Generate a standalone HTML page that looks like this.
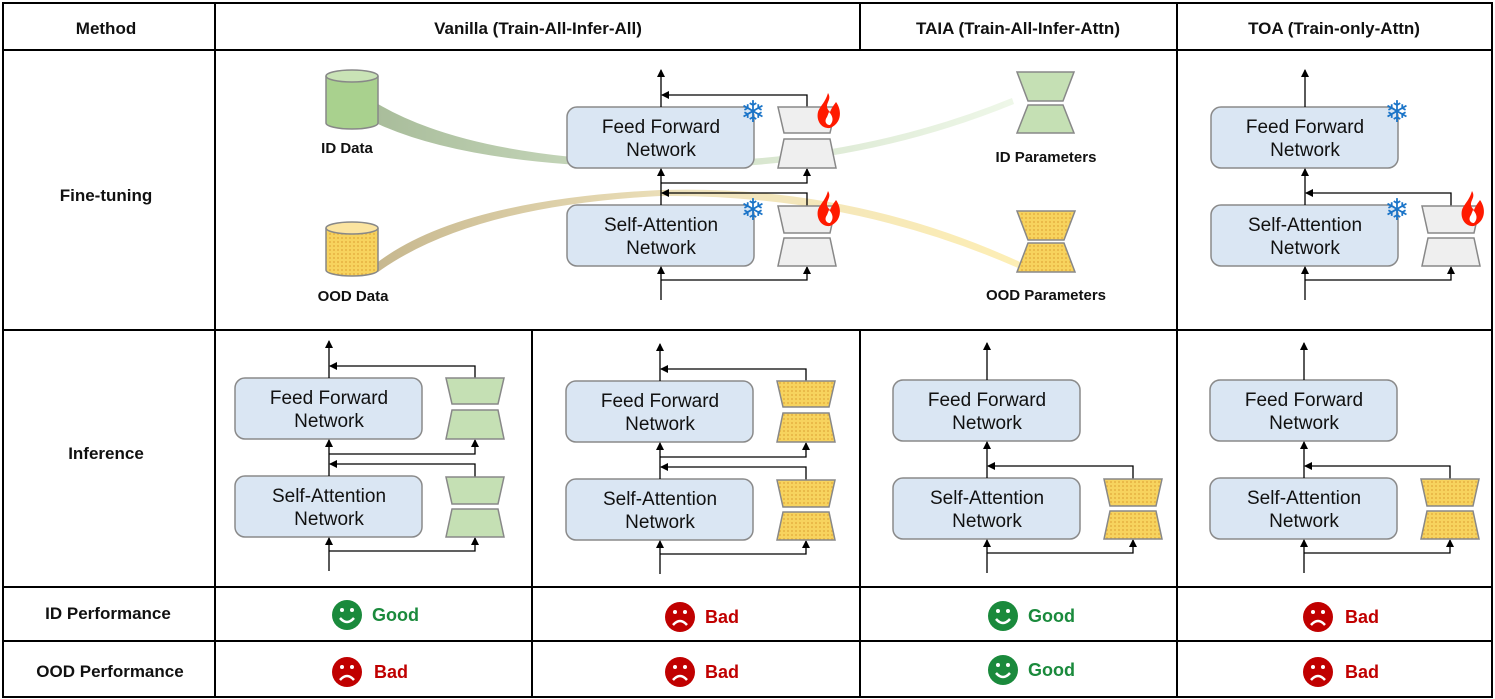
<!DOCTYPE html>
<html><head><meta charset="utf-8"><style>
html,body{margin:0;padding:0;background:#fff;overflow:hidden;width:1495px;height:699px}
svg{display:block}
text{font-family:"Liberation Sans","DejaVu Sans",sans-serif}
.bt{font-size:19px;fill:#111;text-anchor:middle}
.hd{font-size:17px;font-weight:bold;fill:#111;text-anchor:middle}
.lb{font-size:15px;font-weight:bold;fill:#111;text-anchor:middle}
.good{font-size:18px;font-weight:bold;fill:#1a8a3c}
.bad{font-size:18px;font-weight:bold;fill:#c00000}
</style></head><body>
<svg width="1495" height="699" viewBox="0 0 1495 699" xmlns="http://www.w3.org/2000/svg">
<defs>
<marker id="ah" markerWidth="8" markerHeight="8" refX="7" refY="4" orient="auto" markerUnits="userSpaceOnUse"><path d="M0,0 L8,4 L0,8 Z" fill="#000"/></marker>
<pattern id="dot" width="4" height="4" patternUnits="userSpaceOnUse"><rect width="4" height="4" fill="#f7d35e"/><circle cx="2" cy="2" r="0.9" fill="#e2a93a"/></pattern>
<linearGradient id="gid" x1="378" y1="0" x2="1010" y2="0" gradientUnits="userSpaceOnUse"><stop offset="0" stop-color="#a9bd9b"/><stop offset="0.5" stop-color="#d3e2c9"/><stop offset="1" stop-color="#eef7e8"/></linearGradient>
<linearGradient id="good" x1="378" y1="0" x2="1020" y2="0" gradientUnits="userSpaceOnUse"><stop offset="0" stop-color="#c7b88f"/><stop offset="0.5" stop-color="#efe3bd"/><stop offset="1" stop-color="#fdeeb5"/></linearGradient>
<g id="adU"><polygon points="211,0 269,0 263,26 217,26" stroke="#888" stroke-width="1.5"/><polygon points="217,32 263,32 269,61 211,61" stroke="#888" stroke-width="1.5"/></g>
<g id="adL"><polygon points="211,99 269,99 263,126 217,126" stroke="#888" stroke-width="1.5"/><polygon points="217,131 263,131 269,159 211,159" stroke="#888" stroke-width="1.5"/></g>
<g id="boxes">
<rect x="0" y="0" width="187" height="61" rx="10" fill="#dae6f3" stroke="#8a8a8a" stroke-width="1.5"/>
<rect x="0" y="98" width="187" height="61" rx="10" fill="#dae6f3" stroke="#8a8a8a" stroke-width="1.5"/>
<g fill="none" stroke="#000" stroke-width="1.3">
<path d="M94,193 V160" marker-end="url(#ah)"/><path d="M94,98 V62" marker-end="url(#ah)"/><path d="M94,0 V-37" marker-end="url(#ah)"/>
<path d="M94,173 H240 V160" marker-end="url(#ah)"/><path d="M240,99 V86 H95" marker-end="url(#ah)"/>
</g></g>
<g id="upl" fill="none" stroke="#000" stroke-width="1.3"><path d="M94,76 H240 V62" marker-end="url(#ah)"/><path d="M240,0 V-12 H95" marker-end="url(#ah)"/></g>
<g id="fire"><path d="M11,0 C16,8 5,11 13,19 C15,14 17,12 19,9 C25,17 25,30 13,35 C4,36 -1,27 1,19 C3,13 8,10 11,0 Z" fill="#ff1a00"/><path d="M12,19 C16,23 17,28 13,32 C9,32 7,28 10,24 Z" fill="#fff"/></g>
<g id="sad"><circle r="15" fill="#c00000"/><circle cx="-5" cy="-5" r="2" fill="#fff"/><circle cx="5" cy="-5" r="2" fill="#fff"/><path d="M-7,8 Q0,0 7,8" stroke="#fff" stroke-width="2.5" fill="none"/></g>
<g id="happy"><circle r="15" fill="#1a8a3c"/><circle cx="-5" cy="-5" r="2" fill="#fff"/><circle cx="5" cy="-5" r="2" fill="#fff"/><path d="M-7,3 Q0,11 7,3" stroke="#fff" stroke-width="2.5" fill="none"/></g>
</defs>

<path d="M378,104 Q470,158 660,162 Q850,164 1012,98 L1014,104 Q850,171 660,168 Q470,166 378,124 Z" fill="url(#gid)"/>
<path d="M378,262 Q460,200 660,190 Q850,184 1020,262 L1018,268 Q850,194 660,196 Q470,206 378,272 Z" fill="url(#good)"/>

<g stroke="#888" stroke-width="1.5">
<path d="M326,76 V123 A26,6 0 0 0 378,123 V76" fill="#a9d18e"/><ellipse cx="352" cy="76" rx="26" ry="6" fill="#c9e3b6"/>
<path d="M326,228 V270 A26,6 0 0 0 378,270 V228" fill="url(#dot)"/><ellipse cx="352" cy="228" rx="26" ry="6" fill="#fbe4a0"/>
</g>
<text class="lb" x="347" y="153">ID Data</text>
<text class="lb" x="353" y="301">OOD Data</text>
<g stroke="#888" stroke-width="1.5">
<polygon points="1017,72 1074,72 1063,101 1028,101" fill="#c5e0b4"/><polygon points="1028,105 1063,105 1074,133 1017,133" fill="#c5e0b4"/>
<polygon points="1017,211 1075,211 1064,240 1028,240" fill="url(#dot)"/><polygon points="1028,243 1064,243 1075,272 1017,272" fill="url(#dot)"/>
</g>
<text class="lb" x="1046" y="162">ID Parameters</text>
<text class="lb" x="1046" y="300">OOD Parameters</text>

<g transform="translate(567,107)">
<use href="#boxes"/><use href="#upl"/><use href="#adU" fill="#efefef"/><use href="#adL" fill="#efefef"/>
<text class="bt" x="94" y="26">Feed Forward</text><text class="bt" x="94" y="49">Network</text>
<text class="bt" x="94" y="124">Self-Attention</text><text class="bt" x="94" y="147">Network</text>
<text x="186" y="15" font-size="30" fill="#1a74c8" text-anchor="middle" font-family="DejaVu Sans">❄</text>
<text x="186" y="113" font-size="30" fill="#1a74c8" text-anchor="middle" font-family="DejaVu Sans">❄</text>
<use href="#fire" x="250" y="-14"/><use href="#fire" x="250" y="84"/>
</g>
<g transform="translate(1211,107)">
<use href="#boxes"/><use href="#adL" fill="#efefef"/>
<text class="bt" x="94" y="26">Feed Forward</text><text class="bt" x="94" y="49">Network</text>
<text class="bt" x="94" y="124">Self-Attention</text><text class="bt" x="94" y="147">Network</text>
<text x="186" y="15" font-size="30" fill="#1a74c8" text-anchor="middle" font-family="DejaVu Sans">❄</text>
<text x="186" y="113" font-size="30" fill="#1a74c8" text-anchor="middle" font-family="DejaVu Sans">❄</text>
<use href="#fire" x="250" y="84"/>
</g>
<g transform="translate(235,378)">
<use href="#boxes"/><use href="#upl"/><use href="#adU" fill="#c5e0b4"/><use href="#adL" fill="#c5e0b4"/>
<text class="bt" x="94" y="26">Feed Forward</text><text class="bt" x="94" y="49">Network</text>
<text class="bt" x="94" y="124">Self-Attention</text><text class="bt" x="94" y="147">Network</text>
</g>
<g transform="translate(566,381)">
<use href="#boxes"/><use href="#upl"/><use href="#adU" fill="url(#dot)"/><use href="#adL" fill="url(#dot)"/>
<text class="bt" x="94" y="26">Feed Forward</text><text class="bt" x="94" y="49">Network</text>
<text class="bt" x="94" y="124">Self-Attention</text><text class="bt" x="94" y="147">Network</text>
</g>
<g transform="translate(893,380)">
<use href="#boxes"/><use href="#adL" fill="url(#dot)"/>
<text class="bt" x="94" y="26">Feed Forward</text><text class="bt" x="94" y="49">Network</text>
<text class="bt" x="94" y="124">Self-Attention</text><text class="bt" x="94" y="147">Network</text>
</g>
<g transform="translate(1210,380)">
<use href="#boxes"/><use href="#adL" fill="url(#dot)"/>
<text class="bt" x="94" y="26">Feed Forward</text><text class="bt" x="94" y="49">Network</text>
<text class="bt" x="94" y="124">Self-Attention</text><text class="bt" x="94" y="147">Network</text>
</g>

<g stroke="#000" stroke-width="2" fill="none">
<rect x="3" y="3" width="1489" height="694"/>
<path d="M3,50 H1492 M3,330 H1492 M3,587 H1492 M3,641 H1492"/>
<path d="M215,3 V697 M1177,3 V697 M860,3 V50 M860,330 V697 M532,330 V697"/>
</g>
<text class="hd" x="106" y="34">Method</text>
<text class="hd" x="538" y="34">Vanilla (Train-All-Infer-All)</text>
<text class="hd" x="1018" y="34">TAIA (Train-All-Infer-Attn)</text>
<text class="hd" x="1334" y="34">TOA (Train-only-Attn)</text>
<text class="hd" x="106" y="201">Fine-tuning</text>
<text class="hd" x="106" y="459">Inference</text>
<text class="hd" x="108" y="619">ID Performance</text>
<text class="hd" x="110" y="677">OOD Performance</text>

<use href="#happy" x="347" y="615"/><text class="good" x="372" y="621">Good</text>
<use href="#sad" x="680" y="617"/><text class="bad" x="705" y="623">Bad</text>
<use href="#happy" x="1003" y="616"/><text class="good" x="1028" y="622">Good</text>
<use href="#sad" x="1318" y="617"/><text class="bad" x="1345" y="623">Bad</text>

<use href="#sad" x="347" y="672"/><text class="bad" x="374" y="678">Bad</text>
<use href="#sad" x="680" y="672"/><text class="bad" x="705" y="678">Bad</text>
<use href="#happy" x="1003" y="670"/><text class="good" x="1028" y="676">Good</text>
<use href="#sad" x="1318" y="672"/><text class="bad" x="1345" y="678">Bad</text>
</svg>
</body></html>
